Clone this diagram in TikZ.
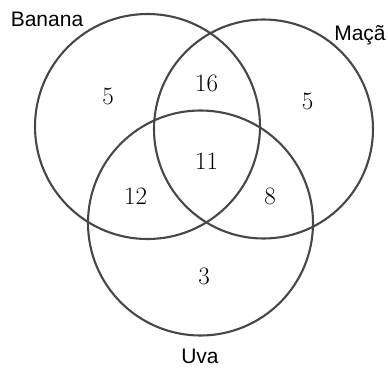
\documentclass[tikz,border=0pt]{standalone}
\usepackage{fontspec}
\newfontfamily\labelfont{Liberation Sans}
\begin{document}
\begin{tikzpicture}[x=1pt,y=-1pt,
  setcircle/.style={draw=black!72,line width=2.1pt},
  numtext/.style={inner sep=0pt,font=\fontsize{25}{30}\selectfont},
  settext/.style={inner sep=0pt,anchor=base,font=\labelfont\fontsize{21}{25}\selectfont}]
\useasboundingbox (0,0) rectangle (388,367);
\coordinate (cb) at (147.5,126.5);
\coordinate (cm) at (263.5,129);
\coordinate (cu) at (200.5,223);
\draw[setcircle] (cb) circle[radius=112.5];
\draw[setcircle] (cm) circle[radius=109.5];
\draw[setcircle] (cu) circle[radius=112.5];
\node[settext] (lb) at (47,26.7) {Banana};
\node[settext] (lm) at (360,40) {Maçã};
\node[settext] (lu) at (200,363.5) {Uva};
\node[numtext] (n1) at (108,96.7) {5};
\node[numtext] (n2) at (206.7,83.3) {16};
\node[numtext] (n3) at (307.7,101.7) {5};
\node[numtext] (n4) at (206.7,161.7) {11};
\node[numtext] (n5) at (135.7,196) {12};
\node[numtext] (n6) at (270,196.7) {8};
\node[numtext] (n7) at (204,276) {3};
\end{tikzpicture}
\end{document}
